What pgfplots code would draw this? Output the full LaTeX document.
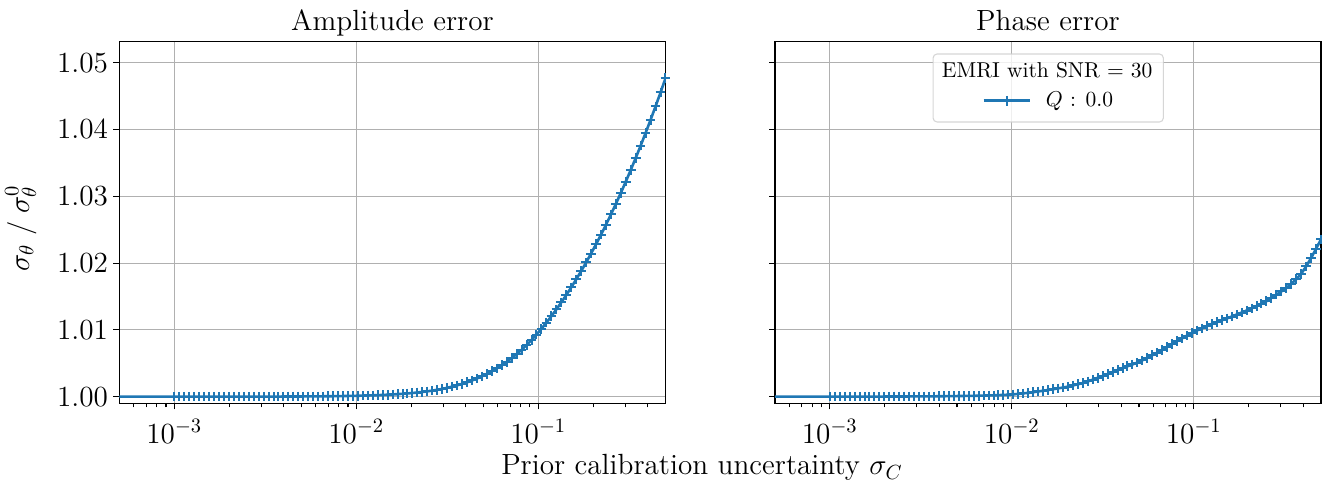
\RequirePackage{fix-cm}
\documentclass[border=0pt]{standalone}
\usepackage{pgfplots}
\pgfplotsset{compat=1.18}
\usepackage{pgfplotstable}
\definecolor{mplblue}{RGB}{31,119,180}
\definecolor{gridgray}{RGB}{176,176,176}
\definecolor{legedge}{RGB}{204,204,204}
\newcommand{\mainfont}{\fontsize{14.6}{17}\selectfont}
\newcommand{\legfont}{\fontsize{10.75}{13}\selectfont}

\pgfplotstableread{
x y
0.0005 1.000000
0.0010000 1.000001
0.0010648 1.000001
0.0011338 1.000001
0.0012072 1.000002
0.0012854 1.000002
0.0013687 1.000002
0.0014574 1.000003
0.0015518 1.000003
0.0016524 1.000003
0.0017594 1.000004
0.0018734 1.000005
0.0019948 1.000005
0.0021240 1.000006
0.0022616 1.000007
0.0024081 1.000008
0.0025642 1.000009
0.0027303 1.000010
0.0029072 1.000011
0.0030955 1.000013
0.0032961 1.000014
0.0035096 1.000016
0.0037370 1.000019
0.0039791 1.000021
0.0042369 1.000024
0.0045114 1.000027
0.0048037 1.000031
0.0051149 1.000035
0.0054462 1.000039
0.0057991 1.000045
0.0061748 1.000050
0.0065748 1.000057
0.0070008 1.000065
0.0074544 1.000074
0.0079373 1.000084
0.0084516 1.000095
0.0089991 1.000108
0.0095821 1.000122
0.0102029 1.000138
0.0108640 1.000157
0.0115677 1.000178
0.0123172 1.000202
0.0131152 1.000229
0.0139649 1.000259
0.0148697 1.000294
0.0158331 1.000333
0.0168589 1.000378
0.0179511 1.000429
0.0191141 1.000486
0.0203524 1.000551
0.0216711 1.000625
0.0230750 1.000708
0.0245700 1.000803
0.0261618 1.000910
0.0278568 1.001032
0.0296616 1.001170
0.0315832 1.001327
0.0336294 1.001505
0.0358081 1.001701
0.0381280 1.001919
0.0405983 1.002161
0.0432285 1.002429
0.0460292 1.002724
0.0490113 1.003050
0.0521865 1.003408
0.0555674 1.003800
0.0591674 1.004230
0.0630008 1.004699
0.0670824 1.005209
0.0714285 1.005765
0.0760563 1.006367
0.0809837 1.007019
0.0862304 1.007722
0.0918171 1.008480
0.0977655 1.009293
0.10410 1.010166
0.11084 1.011085
0.11802 1.012049
0.12567 1.013058
0.13381 1.014113
0.14248 1.015214
0.15171 1.016361
0.16154 1.017555
0.17201 1.018797
0.18315 1.020088
0.19502 1.021427
0.20765 1.022814
0.22111 1.024251
0.23543 1.025738
0.25068 1.027275
0.26693 1.028864
0.28422 1.030505
0.30263 1.032197
0.32224 1.033941
0.34312 1.035739
0.36534 1.037590
0.38902 1.039494
0.41422 1.041453
0.44106 1.043467
0.46963 1.045536
0.50000 1.047661
}\amptable

\pgfplotstableread{
x y
0.0005 1.000000
0.0010000 1.000000
0.0010648 1.000001
0.0011338 1.000003
0.0012072 1.000004
0.0012854 1.000005
0.0013687 1.000006
0.0014574 1.000008
0.0015518 1.000010
0.0016524 1.000011
0.0017594 1.000015
0.0018734 1.000017
0.0019948 1.000020
0.0021240 1.000023
0.0022616 1.000025
0.0024081 1.000028
0.0025642 1.000031
0.0027303 1.000035
0.0029072 1.000040
0.0030955 1.000044
0.0032961 1.000048
0.0035096 1.000052
0.0037370 1.000056
0.0039791 1.000060
0.0042369 1.000070
0.0045114 1.000079
0.0048037 1.000089
0.0051149 1.000098
0.0054462 1.000108
0.0057991 1.000117
0.0061748 1.000127
0.0065748 1.000143
0.0070008 1.000162
0.0074544 1.000181
0.0079373 1.000200
0.0084516 1.000232
0.0089991 1.000265
0.0095821 1.000298
0.0102029 1.000344
0.0108640 1.000421
0.0115677 1.000497
0.0123172 1.000573
0.0131152 1.000671
0.0139649 1.000780
0.0148697 1.000889
0.0158331 1.000998
0.0168589 1.001121
0.0179511 1.001243
0.0191141 1.001366
0.0203524 1.001506
0.0216711 1.001683
0.0230750 1.001860
0.0245700 1.002038
0.0261618 1.002277
0.0278568 1.002549
0.0296616 1.002822
0.0315832 1.003095
0.0336294 1.003394
0.0358081 1.003694
0.0381280 1.003994
0.0405983 1.004285
0.0432285 1.004558
0.0460292 1.004830
0.0490113 1.005103
0.0521865 1.005446
0.0555674 1.005827
0.0591674 1.006209
0.0630008 1.006592
0.0670824 1.007026
0.0714285 1.007462
0.0760563 1.007898
0.0809837 1.008326
0.0862304 1.008736
0.0918171 1.009144
0.0977655 1.009553
0.10410 1.009910
0.11084 1.010236
0.11802 1.010564
0.12567 1.010892
0.13381 1.011165
0.14248 1.011438
0.15171 1.011710
0.16154 1.011991
0.17201 1.012292
0.18315 1.012591
0.19502 1.012891
0.20765 1.013226
0.22111 1.013580
0.23543 1.013935
0.25068 1.014288
0.26693 1.014775
0.28422 1.015267
0.30263 1.015756
0.32224 1.016280
0.34312 1.016881
0.36534 1.017581
0.38902 1.018400
0.41422 1.019496
0.44106 1.020747
0.46963 1.022134
0.50000 1.023548
}\phasetable

\pgfplotsset{
  every axis/.append style={
    scale only axis, width=273pt, height=180.8pt,
    xmin=5e-4, xmax=0.5, ymin=0.99901, ymax=1.05314,
    xtick={1e-3,1e-2,1e-1},
    minor xtick={6e-4,7e-4,8e-4,9e-4,2e-3,3e-3,4e-3,5e-3,6e-3,7e-3,8e-3,9e-3,2e-2,3e-2,4e-2,5e-2,6e-2,7e-2,8e-2,9e-2,2e-1,3e-1,4e-1},
    ytick={1.00,1.01,1.02,1.03,1.04,1.05},
    xtick pos=bottom, ytick pos=left,
    tick align=outside,
    major tick length=3pt, minor tick length=2pt,
    tick style={black, line width=0.55pt},
    axis line style={line width=0.55pt},
    grid=major, major grid style={gridgray, line width=0.55pt},
    tick label style={font=\mainfont},
    xticklabel style={anchor=north, inner sep=0pt, yshift=-5pt},
    yticklabel style={anchor=east, inner sep=0pt, xshift=-2.6pt},
    y tick label style={/pgf/number format/.cd, fixed, fixed zerofill, precision=2, /tikz/.cd},
    title style={font=\mainfont, at={(0.5,1)}, anchor=base, yshift=-0.5pt, inner sep=0pt},
  },
}

\begin{document}
\begin{tikzpicture}
\path[use as bounding box] (0,0) rectangle (661pt,240.5pt);

\begin{semilogxaxis}[at={(59.75pt,38.85pt)}, anchor=south west,
  title={Amplitude error},
  ylabel={$\sigma_\theta \;/\; \sigma_\theta^0$},
  ylabel style={font=\mainfont, at={(axis description cs:-0.1808,0.484)}, anchor=center}]
\addplot[mplblue, line width=1.3pt, mark=+, mark size=2.4pt, mark repeat=1, mark phase=2,
    mark options={line width=1pt, solid}] table[x=x,y=y] {\amptable};
\end{semilogxaxis}

\begin{semilogxaxis}[at={(387.5pt,38.85pt)}, anchor=south west,
  title={Phase error},
  yticklabels={},
  legend style={draw=none, fill=none, at={(axis description cs:0.379,0.8368)}, anchor=west,
    inner sep=0pt, font=\legfont, nodes={inner sep=0pt}},
  legend image code/.code={\draw[mark repeat=2,mark phase=2] plot coordinates {(0pt,0pt) (11.5pt,0pt) (23pt,0pt)};}]
\addplot[mplblue, line width=1.3pt, mark=+, mark size=2.4pt, mark repeat=1, mark phase=2,
    mark options={line width=1pt, solid}] table[x=x,y=y] {\phasetable};
\addlegendentry{\hspace{7.5pt}$Q$ : 0.0}
\draw[legedge, line width=0.55pt, fill=white, fill opacity=0.8, draw opacity=0.8, rounded corners=2pt]
  (axis description cs:0.2896,0.7779) rectangle (axis description cs:0.7113,0.9660);
\node[font=\legfont, anchor=base, inner sep=0pt] at (axis description cs:0.4986,0.9004) {EMRI with SNR = 30};
\end{semilogxaxis}

\node[font=\mainfont, anchor=base, inner sep=0pt] at (351pt,3pt) {Prior calibration uncertainty $\sigma_C$};
\end{tikzpicture}
\end{document}
